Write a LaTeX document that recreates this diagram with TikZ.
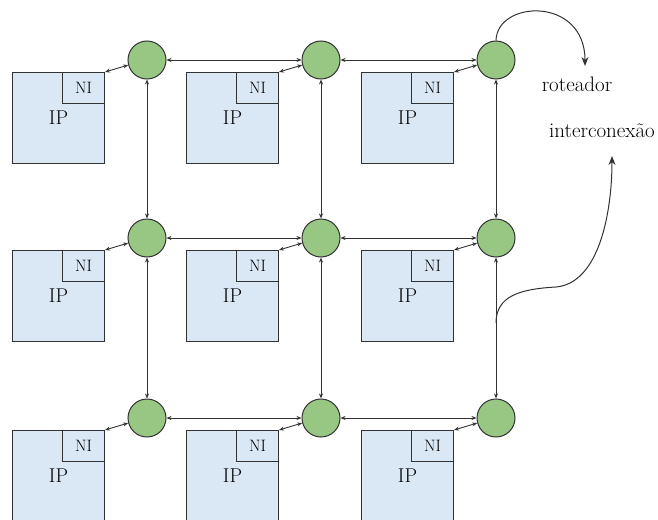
\documentclass[tikz,border=0pt]{standalone}
\usepackage{fontspec}
\usetikzlibrary{arrows.meta}

\definecolor{ipblue}{RGB}{218,232,246}
\definecolor{rtgreen}{RGB}{151,199,131}
\definecolor{linegray}{RGB}{50,50,50}

\begin{document}
\begin{tikzpicture}
    [x=1pt,y=-1pt,
    router/.style={circle,draw=linegray,fill=rtgreen,line width=1pt,
      minimum size=38pt,inner sep=0pt},
    ipbox/.style={draw=linegray,fill=ipblue,line width=1pt,
      minimum width=92pt,minimum height=91pt,inner sep=0pt,
      font=\fontsize{20}{22}\selectfont},
    nibox/.style={draw=linegray,fill=ipblue,line width=1pt,
      minimum width=42pt,minimum height=31pt,inner sep=0pt,
      font=\fontsize{16.5}{18}\selectfont},
    link/.style={{Stealth[length=5pt,width=4pt]}-{Stealth[length=5pt,width=4pt]},
      draw=linegray,line width=0.9pt},
    note/.style={-{Stealth[length=9pt,width=7pt]},draw=linegray,line width=1pt},
    label/.style={font=\fontsize{21}{24}\selectfont}]
  \clip (0,0) rectangle (658,519);

  % routers, each with its IP core and NI
  \foreach \c [count=\i] in {147,321,496} {
    \foreach \r [count=\j] in {60,238,418} {
      \node[router] (r\i\j) at (\c,\r) {};
      \node[ipbox,anchor=north east] (ip\i\j) at (\c-42,\r+12) {IP};
      \node[nibox,anchor=north east] (ni\i\j) at (ip\i\j.north east) {NI};
      \draw[link] (ip\i\j.north east) -- (r\i\j.195);
    }
  }

  % mesh links
  \foreach \j in {1,2,3} {
    \draw[link] (r1\j.east) -- (r2\j.west);
    \draw[link] (r2\j.east) -- (r3\j.west);
  }
  \foreach \i in {1,2,3} {
    \draw[link] (r\i1.south) -- (r\i2.north);
    \draw[link] (r\i2.south) -- (r\i3.north);
  }

  % legend
  \node[label] (rot) at (577,84) {roteador};
  \node[label] (inter) at (602,131) {interconexão};
  \coordinate (rottip) at (585,66);
  \coordinate (intertip) at (612,156);
  \coordinate (linkpt) at (496,323);
  \draw[note] (r31.north) .. controls (497,0) and (585,-4) .. (rottip);
  \draw[note] (linkpt) .. controls (496,296) and (520,289) .. (556,287)
    .. controls (600,283) and (612,210) .. (intertip);
\end{tikzpicture}
\end{document}
